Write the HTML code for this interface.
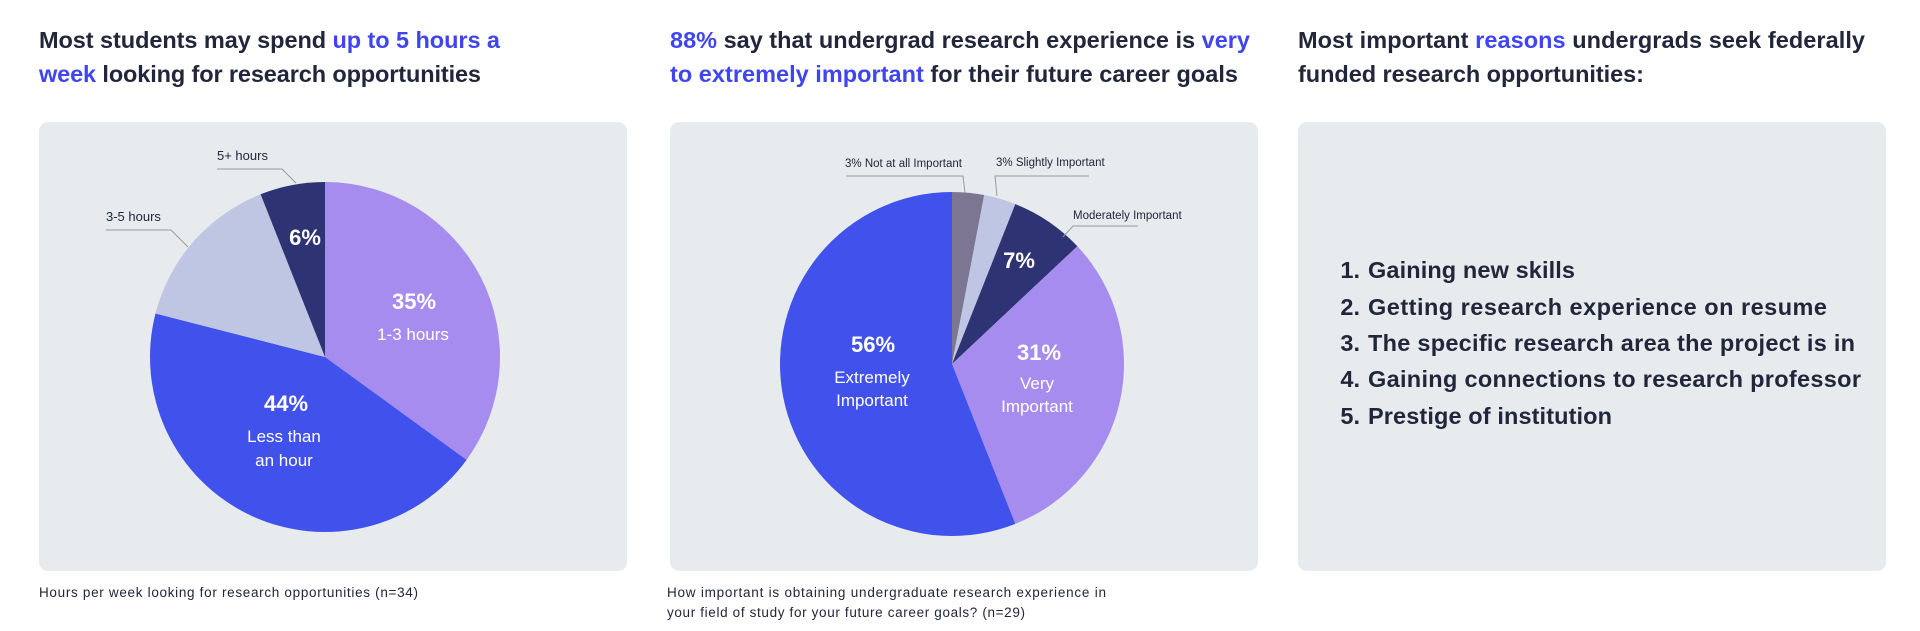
<!DOCTYPE html>
<html><head><meta charset="utf-8"><style>
html,body{margin:0;padding:0;background:#fff;width:1920px;height:631px;overflow:hidden}
svg{display:block;font-family:"Liberation Sans",sans-serif}
.t{font-size:23.5px;font-weight:bold;fill:#22263a}
.b{fill:#3f45f0}
.cap{font-size:13.5px;fill:#22263a}
.lbl{font-size:13px;fill:#22263a}
.lbl2{font-size:11.5px;fill:#22263a}
.pct{font-size:22px;font-weight:bold;fill:#fff}
.sub{font-size:17px;fill:#fff}
.li{font-size:23.5px;font-weight:bold;fill:#22263a}
</style></head><body>
<svg id="root" width="1920" height="631" viewBox="0 0 1920 631">
<g>
<text class="t" x="39" y="48" textLength="461">Most students may spend <tspan class="b">up to 5 hours a</tspan></text>
<text class="t" x="39" y="82" textLength="442"><tspan class="b">week</tspan> looking for research opportunities</text>
<rect x="39" y="122" width="588" height="449" rx="9" fill="#e8ebee"/>
<g id="pie1"></g>
<polyline points="217,169 282,169 296,183" fill="none" stroke="#999" stroke-width="1"/>
<polyline points="106,230 171,230 188,247" fill="none" stroke="#999" stroke-width="1"/>
<text class="lbl" x="217" y="160">5+ hours</text>
<text class="lbl" x="106" y="221">3-5 hours</text>
<g text-anchor="middle">
<text class="pct" x="305" y="245">6%</text>
<text class="pct" x="414" y="309">35%</text>
<text class="sub" x="413" y="340">1-3 hours</text>
<text class="pct" x="286" y="411">44%</text>
<text class="sub" x="284" y="442">Less than</text>
<text class="sub" x="284" y="466">an hour</text>
</g>
<text class="cap" x="39" y="597" textLength="379">Hours per week looking for research opportunities (n=34)</text>
</g>

<g>
<text class="t" x="670" y="48" textLength="580"><tspan class="b">88%</tspan> say that undergrad research experience is <tspan class="b">very</tspan></text>
<text class="t" x="670" y="82" textLength="568"><tspan class="b">to extremely important</tspan> for their future career goals</text>
<rect x="670" y="122" width="588" height="449" rx="9" fill="#e8ebee"/>
<g id="pie2"></g>
<polyline points="846,176 963,176 965,193" fill="none" stroke="#999" stroke-width="1"/>
<polyline points="1089,176 995,176 997,196" fill="none" stroke="#999" stroke-width="1"/>
<polyline points="1138,226 1073,226 1063,237" fill="none" stroke="#999" stroke-width="1"/>
<text class="lbl2" x="845" y="167">3% Not at all Important</text>
<text class="lbl2" x="996" y="166">3% Slightly Important</text>
<text class="lbl2" x="1073" y="219">Moderately Important</text>
<g text-anchor="middle">
<text class="pct" x="1019" y="268">7%</text>
<text class="pct" x="1039" y="360">31%</text>
<text class="sub" x="1037" y="389">Very</text>
<text class="sub" x="1037" y="412">Important</text>
<text class="pct" x="873" y="352">56%</text>
<text class="sub" x="872" y="383">Extremely</text>
<text class="sub" x="872" y="406">Important</text>
</g>
<text class="cap" x="667" y="597" textLength="439">How important is obtaining undergraduate research experience in</text>
<text class="cap" x="667" y="617" textLength="358">your field of study for your future career goals? (n=29)</text>
</g>

<g>
<text class="t" x="1298" y="48" textLength="567">Most important <tspan class="b">reasons</tspan> undergrads seek federally</text>
<text class="t" x="1298" y="82" textLength="346">funded research opportunities:</text>
<rect x="1298" y="122" width="588" height="449" rx="9" fill="#e8ebee"/>
<g class="li">
<text text-anchor="end" x="1360" y="278">1.</text>
<text x="1368" y="278" textLength="207">Gaining new skills</text>
<text text-anchor="end" x="1360" y="315">2.</text>
<text x="1368" y="315" textLength="459">Getting research experience on resume</text>
<text text-anchor="end" x="1360" y="351">3.</text>
<text x="1368" y="351" textLength="487">The specific research area the project is in</text>
<text text-anchor="end" x="1360" y="387">4.</text>
<text x="1368" y="387" textLength="493">Gaining connections to research professor</text>
<text text-anchor="end" x="1360" y="424">5.</text>
<text x="1368" y="424" textLength="244">Prestige of institution</text>
</g>
</g>
</svg>
<script>
const hoursCategories = ["1-3 hours", "Less than an hour", "3-5 hours", "5+ hours"];
const hoursValues = [35, 44, 15, 6];
const hoursColors = ["#a68cee", "#4051ec", "#bec6e3", "#2e3374"];
const importanceCategories = ["Not at all Important", "Slightly Important", "Moderately Important", "Very Important", "Extremely Important"];
const importanceValues = [3, 3, 7, 31, 56];
const importanceColors = ["#7c7693", "#bec6e3", "#2e3374", "#a68cee", "#4051ec"];

const NS = "http://www.w3.org/2000/svg";
function drawPie(gid, cats, vals, cols, cx, cy, r) {
  const g = document.getElementById(gid);
  const total = vals.reduce((a, b) => a + b, 0);
  let acc = 0;
  vals.forEach((v, i) => {
    const a0 = acc / total * 2 * Math.PI;
    acc += v;
    const a1 = acc / total * 2 * Math.PI;
    const x0 = cx + r * Math.sin(a0), y0 = cy - r * Math.cos(a0);
    const x1 = cx + r * Math.sin(a1), y1 = cy - r * Math.cos(a1);
    const large = (a1 - a0) > Math.PI ? 1 : 0;
    const p = document.createElementNS(NS, "path");
    p.setAttribute("d", `M${cx},${cy} L${x0},${y0} A${r},${r} 0 ${large} 1 ${x1},${y1} Z`);
    p.setAttribute("fill", cols[i]);
    
    
    g.appendChild(p);
  });
}
drawPie("pie1", hoursCategories, hoursValues, hoursColors, 325, 357, 175);
drawPie("pie2", importanceCategories, importanceValues, importanceColors, 952, 364, 172);
</script>
</body></html>
